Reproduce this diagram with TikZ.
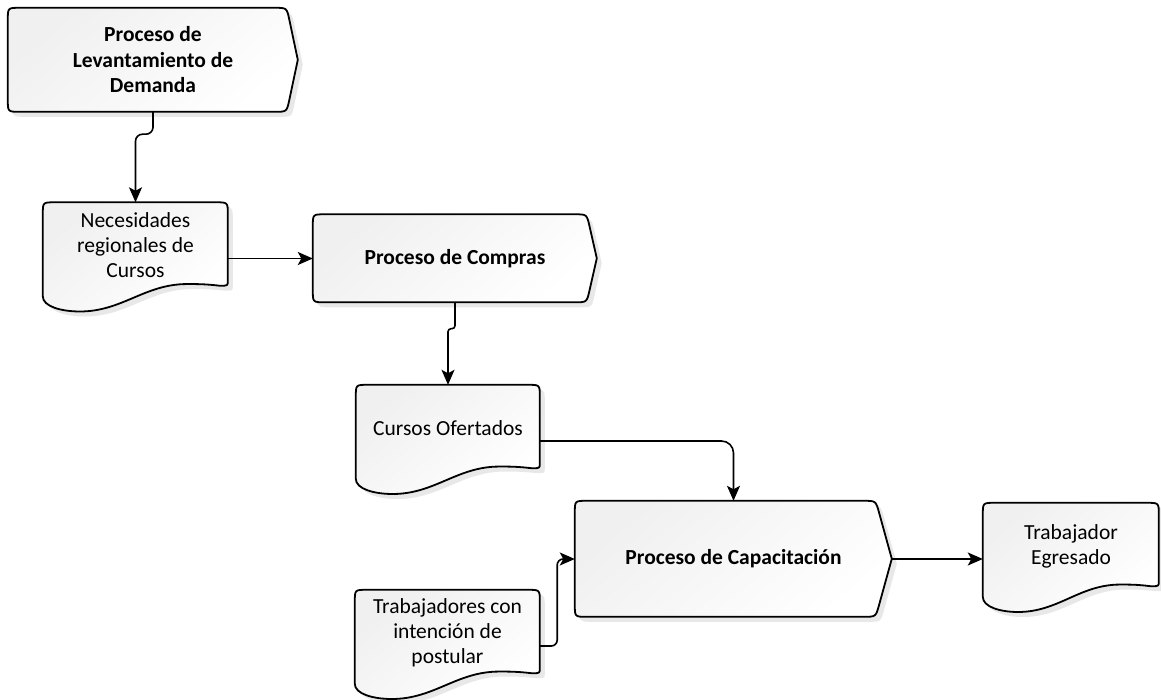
\documentclass[tikz,border=0pt]{standalone}
\usepackage{fontspec}
\setmainfont{Carlito}
\usetikzlibrary{arrows.meta,backgrounds}

% process outline: width (tip included), height, tip depth
\newcommand\procpath[3]{(0,{#2/2}) -- (0,12) .. controls (0,0) .. (12,0)
  -- ({#1-#3-12},0) .. controls ({#1-#3},0) .. ({#1-#3+24*#3/#2},12)
  -- (#1,{#2/2}) -- ({#1-#3+24*#3/#2},{#2-12})
  .. controls ({#1-#3},#2) .. ({#1-#3-12},#2)
  -- (12,#2) .. controls (0,#2) .. (0,{#2-12}) -- cycle}

% document outline with a wavy bottom: width, height
\newcommand\docpath[2]{(0,{0.84*#2}) -- (0,12) .. controls (0,0) .. (12,0)
  -- ({#1-12},0) .. controls (#1,0) .. (#1,12)
  -- (#1,{0.70*#2}) .. controls (#1,{0.745*#2}) .. ({#1-8},{0.745*#2})
  .. controls ({0.88*#1},{0.73*#2}) and ({0.84*#1},{0.73*#2}) .. ({0.78*#1},{0.73*#2})
  .. controls ({0.55*#1},{0.73*#2}) and ({0.43*#1},{0.975*#2}) .. ({0.2*#1},{0.975*#2})
  .. controls ({0.1*#1},{0.975*#2}) and (0,{0.93*#2}) .. (0,{0.84*#2}) -- cycle}

\newcommand\procshape[4]{%
  \fill[boxshadow, shift={(#1.north west)}, xshift=5pt, yshift=-5pt] \procpath{#2}{#3}{#4};
  \fill[boxshadow, shift={(#1.north west)}, xshift=3.5pt, yshift=-3.5pt] \procpath{#2}{#3}{#4};
  \draw[boxline, shift={(#1.north west)}] \procpath{#2}{#3}{#4};}
\newcommand\docshape[3]{%
  \fill[boxshadow, shift={(#1.north west)}, xshift=5pt, yshift=-5pt] \docpath{#2}{#3};
  \fill[boxshadow, shift={(#1.north west)}, xshift=3.5pt, yshift=-3.5pt] \docpath{#2}{#3};
  \draw[boxline, shift={(#1.north west)}] \docpath{#2}{#3};}

% text sits in the upper part of a document box
\newcommand\doctext[2]{\parbox[b][86pt][c]{#1pt}{\centering #2}}

\begin{document}
\begin{tikzpicture}[x=1pt, y=-1pt,
  every node/.style={font=\fontsize{21.5pt}{25pt}\selectfont, inner sep=0pt},
  procnode/.style={align=center, font=\fontsize{21.5pt}{25.5pt}\selectfont\bfseries},
  docnode/.style={minimum height=112pt, text depth=26pt},
  boxline/.style={line width=1.8pt, draw=black, line join=round,
    top color=black!6, bottom color=white, shading angle=40},
  boxshadow/.style={fill=black!9},
  conn/.style={line width=1.6pt, draw=black,
    -{Stealth[length=15pt, width=13pt, inset=3.5pt]}}]

\useasboundingbox (0,0) rectangle (1161,700);

% boxes (positions and sizes)
\node[procnode, minimum width=290pt, minimum height=104pt] (lev) at (153,60)
  {Proceso de\\Levantamiento de\\Demanda};
\node[docnode, minimum width=185pt] (nec) at (135.5,258.5)
  {\doctext{185}{Necesidades\\regionales de\\Cursos}};
\node[procnode, minimum width=284pt, minimum height=88pt] (comp) at (455,258.5)
  {Proceso de Compras};
\node[docnode, minimum width=184pt] (cur) at (448,441)
  {\doctext{184}{Cursos Ofertados}};
\node[procnode, minimum width=317pt, minimum height=116pt] (cap) at (733.5,559)
  {Proceso de Capacitación};
\node[docnode, minimum width=185pt] (trab) at (447.5,646)
  {\doctext{185}{Trabajadores con\\intención de\\postular}};
\node[docnode, minimum width=176pt] (egr) at (1071,559)
  {\doctext{176}{Trabajador\\Egresado}};

% outlines and shadows behind the texts
\begin{scope}[on background layer]
  \fill[white] (0,0) rectangle (1161,700);
  \procshape{lev}{290}{104}{11}
  \docshape{nec}{185}{112}
  \procshape{comp}{284}{88}{10}
  \docshape{cur}{184}{112}
  \procshape{cap}{317}{116}{16}
  \docshape{trab}{185}{112}
  \docshape{egr}{176}{112}
\end{scope}

% connectors
\draw[conn, rounded corners=7pt] (lev.south) -- ++(0,22) -| (nec.north);
\draw[conn] (nec.east) -- (comp.west);
\draw[conn, rounded corners=3pt] (comp.south) -- ++(0,26) -| (cur.north);
\draw[conn, rounded corners=12pt] (cur.east) -| (cap.north);
\draw[conn, rounded corners=6pt] (trab.east) -- ++(17,0) |- (cap.west);
\draw[conn] (cap.east) -- (egr.west);
\end{tikzpicture}
\end{document}
